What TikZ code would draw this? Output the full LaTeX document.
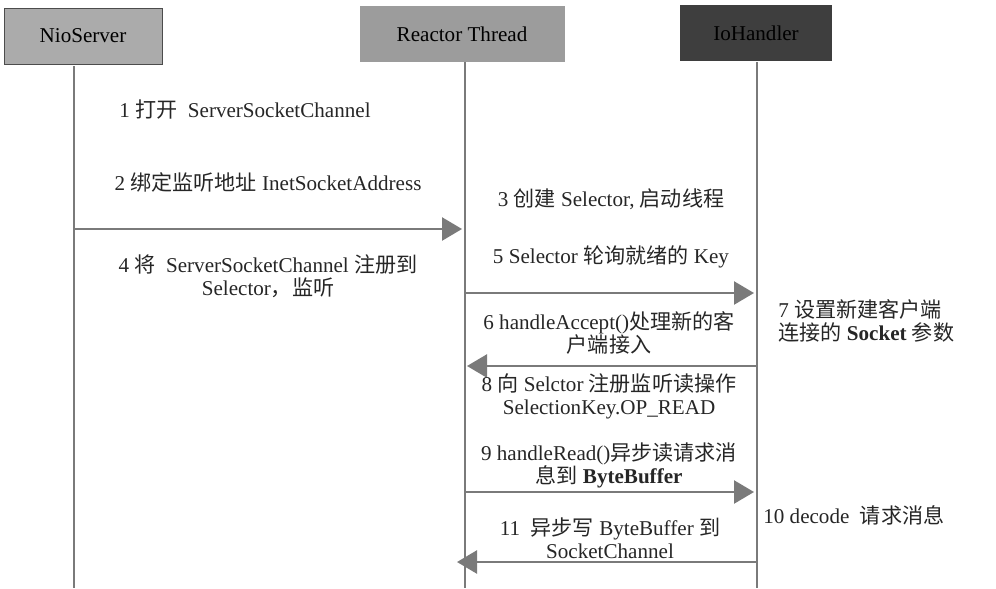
\documentclass[tikz,border=0pt]{standalone}
\usepackage{fontspec}
\setmainfont{Liberation Serif}
\newfontfamily\cjk{Noto Sans CJK SC}
\newcommand*{\zh}[1]{{\cjk #1}}
\usetikzlibrary{arrows.meta}
\usetikzlibrary{calc}
\providecommand*{\pgfmathsetnewmacro}[2]{%
    \newcommand*{#1}{}% Error if already defined
    \pgfmathsetmacro{#1}{#2}%
}

\definecolor{boxlight}{HTML}{ABABAB}
\definecolor{boxmid}{HTML}{9C9C9C}
\definecolor{boxdark}{HTML}{3E3E3E}
\definecolor{wire}{HTML}{7A7A7A}

\tikzset{
    actor/.style = {minimum height = 11.2mm, inner sep = 0pt,
                    font = \fontsize{12}{13}\selectfont},
    lifeline/.style = {wire, line width = 0.4mm},
    msg/.style = {wire, line width = 0.5mm,
                  -{Triangle[length = 4mm, width = 4.6mm]}},
    note/.style = {align = center, text = black!85,
                   font = \fontsize{12}{13.2}\selectfont, inner sep = 0pt}
}

\begin{document}
\begin{tikzpicture}[x = 0.2mm, y = -0.2mm]

\useasboundingbox (0,0) rectangle (996,588);

\pgfmathsetnewmacro{\bottom}{588}

% the three parties
\node[actor, draw = black!70, fill = boxlight, minimum width = 31.6mm]
    (nio) at (83,36) {NioServer};
\node[actor, fill = boxmid, minimum width = 41mm]
    (reactor) at (462,34) {Reactor Thread};
\node[actor, fill = boxdark, minimum width = 30.4mm]
    (handler) at (756,33) {IoHandler};

\coordinate (nioL) at (74,66);
\coordinate (reactorL) at (465,62);
\coordinate (handlerL) at (757,62);

\draw[lifeline] (nioL) -- (nioL |- 0,\bottom);
\draw[lifeline] (reactorL) -- (reactorL |- 0,\bottom);
\draw[lifeline] (handlerL) -- (handlerL |- 0,\bottom);

% message heights
\coordinate (m1) at (0,229);
\coordinate (m2) at (0,293);
\coordinate (m3) at (0,366);
\coordinate (m4) at (0,492);
\coordinate (m5) at (0,562);

\draw[msg] (nioL |- m1) -- ($(reactorL |- m1)+(-3,0)$);
\draw[msg] (reactorL |- m2) -- ($(handlerL |- m2)+(-3,0)$);
\draw[msg] (handlerL |- m3) -- ($(reactorL |- m3)+(2,0)$);
\draw[msg] (reactorL |- m4) -- ($(handlerL |- m4)+(-3,0)$);
\draw[msg] (handlerL |- m5) -- ($(reactorL |- m5)+(-8,0)$);

% labels
\node[note] (t1) at (245,110) {1 \zh{打开}\ \ ServerSocketChannel};
\node[note] (t2) at (268,182) {2 \zh{绑定监听地址} InetSocketAddress};
\node[note] (t4) at (268,276) {4 \zh{将}\ \ ServerSocketChannel \zh{注册到}\\Selector\zh{，监听}};
\node[note] (t3) at (611,199) {3 \zh{创建} Selector, \zh{启动线程}};
\node[note] (t5) at (611,257) {5 Selector \zh{轮询就绪的} Key};
\node[note] (t6) at (609,333) {6 handleAccept()\zh{处理新的客}\\\zh{户端接入}};
\node[note, anchor = west, align = left] (t7) at (778,321)
    {7 \zh{设置新建客户端}\\\zh{连接的} \textbf{Socket} \zh{参数}};
\node[note] (t8) at (609,396) {8 \zh{向} Selctor \zh{注册监听读操作}\\SelectionKey.OP\_READ};
\node[note] (t9) at (609,465) {9 handleRead()\zh{异步读请求消}\\\zh{息到} \textbf{ByteBuffer}};
\node[note, anchor = west] (t10) at (763,515) {10 decode\ \ \zh{请求消息}};
\node[note] (t11) at (610,538) {11\ \ \zh{异步写} ByteBuffer \zh{到}\\SocketChannel};

\end{tikzpicture}
\end{document}
